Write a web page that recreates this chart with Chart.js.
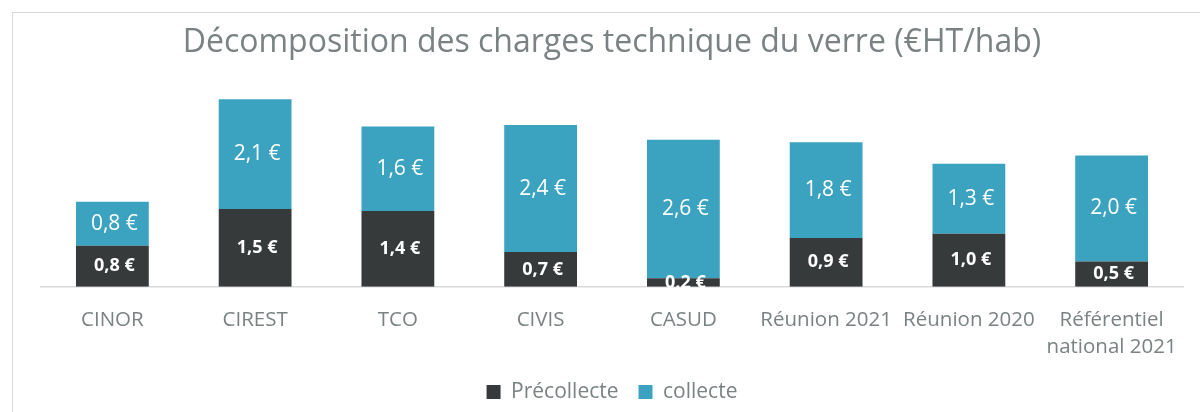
<!DOCTYPE html>
<html>
<head>
<meta charset="utf-8">
<script src="https://cdn.jsdelivr.net/npm/chart.js@4"></script>
<style>
  html, body { margin: 0; padding: 0; background: #fff; overflow: hidden; width: 1200px; height: 412px; }
  #frame { position: absolute; left: 12px; top: 12px; width: 1200px; height: 412px;
           border-left: 1px solid #d9d9d9; border-top: 1px solid #d9d9d9; box-sizing: border-box; }
  #wrap { position: absolute; left: 12px; top: 12px; width: 1200px; height: 412px; }
</style>
</head>
<body>
<div id="frame"></div>
<div id="wrap"><canvas id="c" width="1200" height="412"></canvas></div>
<script>
const titleText = 'Décomposition des charges technique du verre (€HT/hab)';
const categories = ['CINOR', 'CIREST', 'TCO', 'CIVIS', 'CASUD', 'Réunion 2021', 'Réunion 2020', ['Référentiel', 'national 2021']];
const precollecte = [0.78, 1.48, 1.44, 0.66, 0.16, 0.93, 1.01, 0.48];
const collecte = [0.84, 2.09, 1.61, 2.42, 2.64, 1.82, 1.33, 2.02];
const seriesNames = ['Précollecte', 'collecte'];

const textGray = '#7a8283';
const fontFamily = '"Open Sans", "Noto Sans", sans-serif';

function fmt(v) { return v.toFixed(1).replace('.', ',') + ' €'; }

const labelPlugin = {
  id: 'barLabels',
  afterDatasetsDraw(chart) {
    const ctx = chart.ctx;
    chart.data.datasets.forEach((ds, di) => {
      const meta = chart.getDatasetMeta(di);
      meta.data.forEach((bar, i) => {
        const p = bar.getProps(['x', 'y', 'base'], true);
        const cy = (p.y + p.base) / 2;
        ctx.save();
        ctx.fillStyle = '#ffffff';
        ctx.textAlign = 'center';
        ctx.textBaseline = 'middle';
        ctx.font = di === 0 ? 'bold 18px ' + fontFamily : '21px ' + fontFamily;
        ctx.fillText(fmt(ds.data[i]), p.x + 2, cy);
        ctx.restore();
      });
    });
  }
};

new Chart(document.getElementById('c'), {
  type: 'bar',
  data: {
    labels: categories,
    datasets: [
      { label: seriesNames[0], data: precollecte, backgroundColor: '#363a3b', borderWidth: 0 },
      { label: seriesNames[1], data: collecte, backgroundColor: '#3ba3bf', borderWidth: 0 }
    ]
  },
  options: {
    responsive: false,
    animation: false,
    devicePixelRatio: 1,
    layout: { padding: { left: 29, right: 29, top: 0, bottom: 11.5 } },
    datasets: { bar: { categoryPercentage: 1.0, barPercentage: 0.51 } },
    scales: {
      x: {
        stacked: true,
        grid: { display: false, drawTicks: true, tickLength: 18.8 },
        border: { display: true, color: '#d9d9d9', width: 1.5 },
        ticks: { color: textGray, font: { family: fontFamily, size: 20.5, lineHeight: 27 / 20.5 }, padding: 1, maxRotation: 0, autoSkip: false }
      },
      y: {
        stacked: true,
        display: false,
        min: 0,
        max: 4
      }
    },
    plugins: {
      title: {
        display: true,
        text: titleText,
        color: textGray,
        font: { family: fontFamily, size: 32, weight: 'normal', lineHeight: 1.2 },
        padding: { top: 12, bottom: 14.3 }
      },
      legend: {
        position: 'bottom',
        labels: {
          color: textGray,
          font: { family: fontFamily, size: 21 },
          boxWidth: 14,
          boxHeight: 14,
          padding: 20
        }
      },
      tooltip: { enabled: false }
    }
  },
  plugins: [labelPlugin]
});
</script>
</body>
</html>
